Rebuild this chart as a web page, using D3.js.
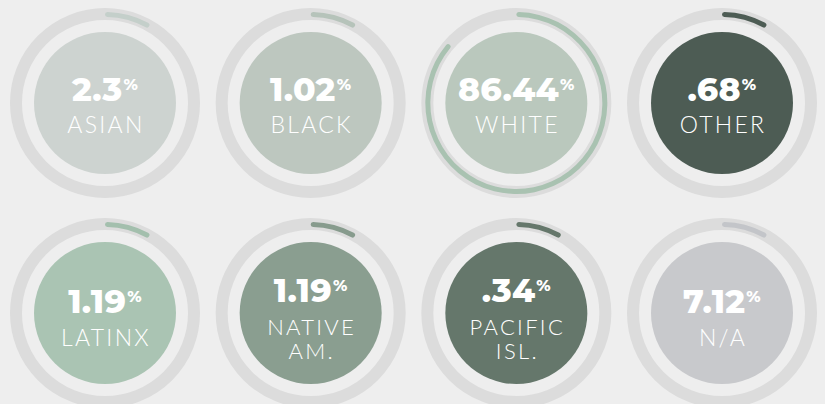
<!DOCTYPE html>
<html>
<head>
<meta charset="utf-8">
<script src="https://cdn.jsdelivr.net/npm/d3@7"></script>
<style>
  html, body { margin: 0; padding: 0; background: #eeeeee; }
  #chart { width: 825px; height: 404px; }
</style>
</head>
<body>
<div id="chart"></div>
<script>
const categories = ["ASIAN", "BLACK", "WHITE", "OTHER", "LATINX", "NATIVE AM.", "PACIFIC ISL.", "N/A"];
const values = [2.3, 1.02, 86.44, 0.68, 1.19, 1.19, 0.34, 7.12];
const valueText = ["2.3", "1.02", "86.44", ".68", "1.19", "1.19", ".34", "7.12"];
const fillColors = ["#cdd3d0", "#bdc7bf", "#bac8bd", "#4d5c54", "#aac4b3", "#8a9e90", "#65776b", "#c8c9cc"];
const arcColors = ["#c4cfca", "#b6c3ba", "#a9c2b1", "#4d5c54", "#a3bfad", "#879b8d", "#65776b", "#c3c5c9"];

{
    const layout = { width: 825, height: 404, ringR: 89, ringW: 12, innerR: 71 };
    const minShown = 8.3; // tiny shares still get a visible stub

    const svg = d3.select("#chart")
        .append("svg")
        .attr("width", layout.width)
        .attr("height", layout.height);

    const x = d3.scalePoint().domain([0, 1, 2, 3]).range([105, 722]);
    const y = d3.scalePoint().domain([0, 1]).range([103, 313]);
    const angle = d3.scaleLinear().domain([0, 100]).range([0, 2 * Math.PI]);

    const arc = d3.arc()
        .innerRadius(layout.ringR - 3)
        .outerRadius(layout.ringR + 2)
        .startAngle(0)
        .cornerRadius(2.5);

    const data = categories.map((c, i) => ({
        label: c,
        value: values[i],
        text: valueText[i],
        fill: fillColors[i],
        arcFill: arcColors[i],
        col: i % 4,
        row: Math.floor(i / 4)
    }));

    const g = svg.selectAll("g.badge")
        .data(data)
        .enter()
        .append("g")
        .attr("class", "badge")
        .attr("transform", d => `translate(${x(d.col)},${y(d.row)})`);

    g.append("circle")
        .attr("r", layout.ringR)
        .attr("fill", "none")
        .attr("stroke", "#dcdcdc")
        .attr("stroke-width", layout.ringW);

    g.append("path")
        .attr("d", d => arc({ endAngle: angle(Math.max(d.value, minShown)) }))
        .attr("fill", d => d.arcFill);

    g.append("circle")
        .attr("r", layout.innerR)
        .attr("fill", d => d.fill);

    g.each(function (d) {
        const lines = d.label === "N/A" ? [d.label] : d.label.split(" ");
        const two = lines.length > 1;
        const el = d3.select(this);

        const num = el.append("text")
            .attr("text-anchor", "middle")
            .attr("y", two ? -11 : -2 + d.row * 2)
            .attr("fill", "#ffffff")
            .style("font-family", "Montserrat, 'Open Sans', Lato, sans-serif")
            .style("font-weight", 800)
            .style("font-size", "33px")
            .style("letter-spacing", "0.3px");
        num.append("tspan").text(d.text);
        num.append("tspan")
            .attr("dy", -11)
            .attr("dx", 1)
            .style("font-size", "16px")
            .text("%");

        const lab = el.append("text")
            .attr("text-anchor", "middle")
            .attr("y", two ? 22 : 30 + d.row * 3)
            .attr("fill", "#ffffff")
            .style("font-family", "Lato, 'Open Sans', sans-serif")
            .style("font-weight", 300)
            .style("font-size", two ? "22px" : "23px")
            .style("letter-spacing", "2.3px");
        lines.forEach((line, k) => {
            lab.append("tspan")
                .attr("x", 1)
                .attr("dy", k === 0 ? 0 : 23.5)
                .text(line);
        });
    });
}
</script>
</body>
</html>
